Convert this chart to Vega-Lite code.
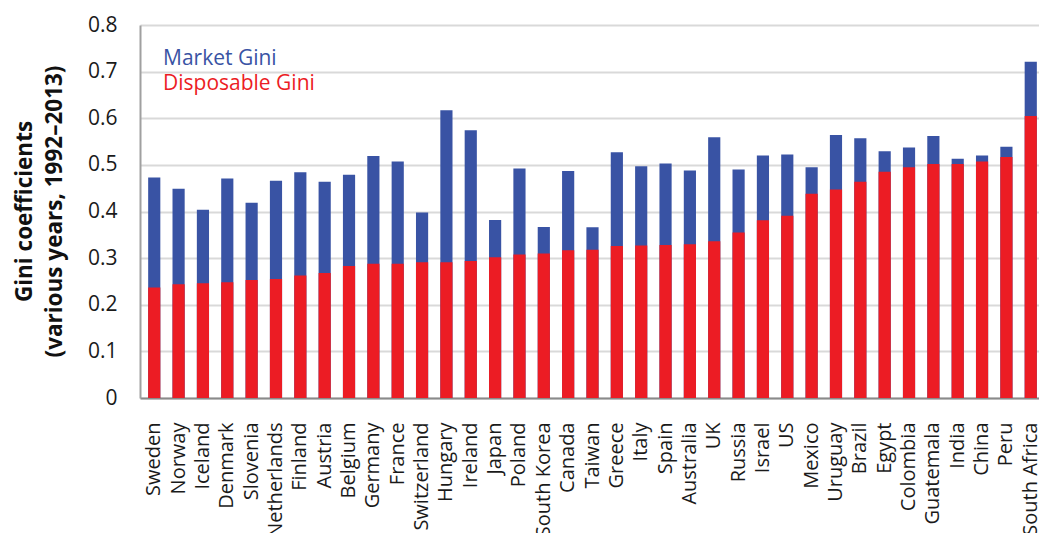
{
  "$schema": "https://vega.github.io/schema/vega-lite/v6.json",
  "width": 899,
  "height": 373,
  "autosize": {"type": "none"},
  "padding": {"left": 140, "top": 25, "right": 0, "bottom": 135},
  "background": "white",
  "config": {"font": "Open Sans", "view": {"stroke": null}},
  "data": {
    "values": [
      {"country": "Sweden", "market": 0.473, "disposable": 0.237},
      {"country": "Norway", "market": 0.449, "disposable": 0.244},
      {"country": "Iceland", "market": 0.404, "disposable": 0.246},
      {"country": "Denmark", "market": 0.471, "disposable": 0.248},
      {"country": "Slovenia", "market": 0.419, "disposable": 0.253},
      {"country": "Netherlands", "market": 0.466, "disposable": 0.255},
      {"country": "Finland", "market": 0.484, "disposable": 0.263},
      {"country": "Austria", "market": 0.464, "disposable": 0.268},
      {"country": "Belgium", "market": 0.479, "disposable": 0.283},
      {"country": "Germany", "market": 0.519, "disposable": 0.288},
      {"country": "France", "market": 0.507, "disposable": 0.288},
      {"country": "Switzerland", "market": 0.398, "disposable": 0.291},
      {"country": "Hungary", "market": 0.617, "disposable": 0.291},
      {"country": "Ireland", "market": 0.574, "disposable": 0.294},
      {"country": "Japan", "market": 0.382, "disposable": 0.302},
      {"country": "Poland", "market": 0.492, "disposable": 0.308},
      {"country": "South Korea", "market": 0.367, "disposable": 0.31},
      {"country": "Canada", "market": 0.487, "disposable": 0.317},
      {"country": "Taiwan", "market": 0.366, "disposable": 0.318},
      {"country": "Greece", "market": 0.527, "disposable": 0.326},
      {"country": "Italy", "market": 0.497, "disposable": 0.327},
      {"country": "Spain", "market": 0.503, "disposable": 0.328},
      {"country": "Australia", "market": 0.488, "disposable": 0.33},
      {"country": "UK", "market": 0.559, "disposable": 0.336},
      {"country": "Russia", "market": 0.49, "disposable": 0.355},
      {"country": "Israel", "market": 0.52, "disposable": 0.381},
      {"country": "US", "market": 0.522, "disposable": 0.391},
      {"country": "Mexico", "market": 0.495, "disposable": 0.438},
      {"country": "Uruguay", "market": 0.564, "disposable": 0.447},
      {"country": "Brazil", "market": 0.557, "disposable": 0.464},
      {"country": "Egypt", "market": 0.529, "disposable": 0.485},
      {"country": "Colombia", "market": 0.537, "disposable": 0.495},
      {"country": "Guatemala", "market": 0.562, "disposable": 0.502},
      {"country": "India", "market": 0.513, "disposable": 0.502},
      {"country": "China", "market": 0.52, "disposable": 0.507},
      {"country": "Peru", "market": 0.539, "disposable": 0.517},
      {"country": "South Africa", "market": 0.721, "disposable": 0.605}
    ]
  },
  "encoding": {
    "x": {
      "field": "country",
      "type": "nominal",
      "sort": null,
      "scale": {"range": [0, 905], "paddingInner": 0.5, "paddingOuter": 0.335},
      "axis": {
        "title": null,
        "labelAngle": -90,
        "labelAlign": "right",
        "labelBaseline": "middle",
        "labelFontSize": 20,
        "labelColor": "#1a1a1a",
        "labelPadding": 24,
        "ticks": false,
        "domainColor": "#8a8a8a",
        "domainWidth": 2,
        "grid": false
      }
    }
  },
  "layer": [
    {
      "mark": {"type": "bar"},
      "encoding": {
        "y": {
          "field": "market",
          "type": "quantitative",
          "scale": {"domain": [0, 0.8]},
          "axis": {
            "title": ["Gini coefficients", "(various years, 1992–2013)"],
            "titleFontSize": 22.5,
            "titleFontWeight": "bold",
            "titleColor": "#111111",
            "titleLineHeight": 30,
            "titleAngle": -90,
            "titleBaseline": "middle",
            "titleAlign": "center",
            "titleX": -116,
            "titleY": 186,
            "values": [0, 0.1, 0.2, 0.3, 0.4, 0.5, 0.6, 0.7, 0.8],
            "format": "~g",
            "labelFontSize": 21,
            "labelColor": "#1a1a1a",
            "labelPadding": 23,
            "ticks": false,
            "domainColor": "#a0a0a0",
            "domainWidth": 2,
            "gridColor": "#d9d9d9",
            "gridWidth": 2
          }
        },
        "color": {
          "datum": "Market Gini",
          "type": "nominal",
          "scale": {"domain": ["Market Gini", "Disposable Gini"], "range": ["#3953a4", "#ec1c24"]},
          "legend": {
            "title": null,
            "orient": "none",
            "legendX": 2,
            "legendY": 23,
            "symbolSize": 0,
            "symbolOpacity": 0,
            "symbolStrokeWidth": 0,
            "labelOffset": 0,
            "labelFontSize": 21,
            "rowPadding": 3,
            "padding": 0,
            "encode": {"labels": {"update": {"fill": {"scale": "color", "field": "value"}}}}
          }
        }
      }
    },
    {
      "mark": {"type": "bar"},
      "encoding": {
        "y": {"field": "disposable", "type": "quantitative"},
        "color": {"datum": "Disposable Gini", "type": "nominal"}
      }
    }
  ]
}
